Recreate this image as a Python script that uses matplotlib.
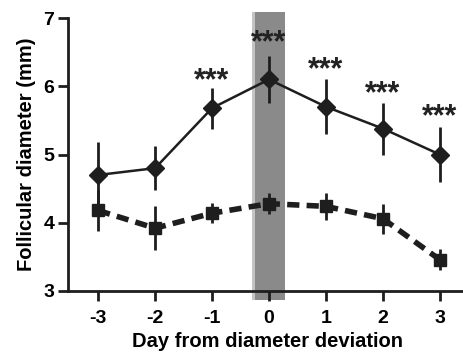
import matplotlib.pyplot as plt
from matplotlib.patches import Rectangle

plt.rcParams['font.family'] = ['Liberation Sans', 'DejaVu Sans']

# Data
days = [-3, -2, -1, 0, 1, 2, 3]
dom = [4.7, 4.8, 5.68, 6.1, 5.7, 5.38, 5.0]
dom_err = [0.48, 0.32, 0.3, 0.35, 0.4, 0.38, 0.4]
sub = [4.18, 3.92, 4.14, 4.28, 4.24, 4.06, 3.46]
sub_err = [0.3, 0.32, 0.15, 0.15, 0.2, 0.22, 0.15]
star_days = [-1, 0, 1, 2, 3]
star_y = [6.08, 6.63, 6.24, 5.88, 5.55]

fig = plt.figure(figsize=(4.64, 3.56), dpi=100)
ax = fig.add_axes([0.1466, 0.1826, 0.86, 0.7668])

# deviation band
band = Rectangle((-0.29, 2.87), 0.58, 4.22, facecolor='#8a8a8a', edgecolor='none',
                 clip_on=False, zorder=0)
ax.add_patch(band)
ax.add_patch(Rectangle((-0.29, 2.87), 0.05, 4.22, facecolor='#c4c4c4', edgecolor='none',
                       clip_on=False, zorder=0))

ax.errorbar(days, dom, yerr=dom_err, color='#1e1e1e', lw=1.8, marker='D', ms=9,
            elinewidth=2, capsize=0, zorder=3)
ax.errorbar(days, sub, yerr=sub_err, color='#1e1e1e', lw=4, ls=(0, (2.2, 1.3)),
            marker='s', ms=8, elinewidth=2, capsize=0, zorder=3)

for d, y in zip(star_days, star_y):
    ax.text(d, y, '***', ha='center', va='center', fontsize=22, fontweight='bold',
            color='#222222')

ax.set_xlim(-3.53, 3.48)
ax.set_ylim(3, 7)
ax.set_xticks(days)
ax.set_xticklabels(['-3', '-2', '-1', '0', '1', '2', '3'])
ax.set_yticks([3, 4, 5, 6, 7])
for s in ['top', 'right']:
    ax.spines[s].set_visible(False)
for s in ['left', 'bottom']:
    ax.spines[s].set_linewidth(2)
    ax.spines[s].set_color('#1e1e1e')
ax.tick_params(axis='both', width=2, length=7, color='#1e1e1e', labelsize=14)
ax.tick_params(axis='x', pad=7)
ax.tick_params(axis='y', pad=3)
for lab in ax.get_xticklabels() + ax.get_yticklabels():
    lab.set_fontweight('bold')
ax.set_xlabel('Day from diameter deviation', fontsize=14.5, fontweight='bold', labelpad=3)
ax.set_ylabel('Follicular diameter (mm)', fontsize=14.5, fontweight='bold', labelpad=5)

fig.savefig('out.png', dpi=100)
